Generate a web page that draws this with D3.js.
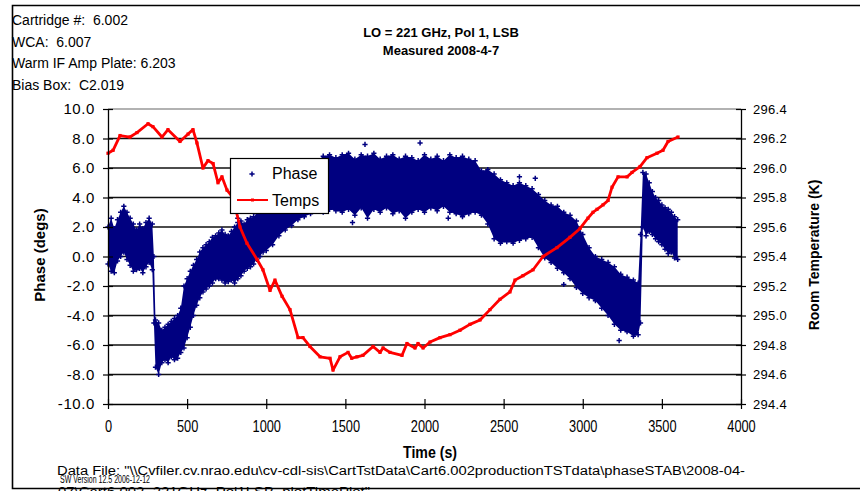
<!DOCTYPE html>
<html>
<head>
<meta charset="utf-8">
<script src="https://cdn.jsdelivr.net/npm/d3@7"></script>
<style>
  body { margin: 0; background: #fff; }
  svg { display: block; font-family: "Liberation Sans", Arial, sans-serif; }
  text { white-space: pre; }
</style>
</head>
<body>
<div id="chart"></div>
<script>
// axis ticks
const timeTicks = [0, 500, 1000, 1500, 2000, 2500, 3000, 3500, 4000];
const phaseTicks = [-10, -8, -6, -4, -2, 0, 2, 4, 6, 8, 10];
const tempTicks = [294.4, 294.6, 294.8, 295.0, 295.2, 295.4, 295.6, 295.8, 296.0, 296.2, 296.4];

// phase scatter, read as lower / upper edge of the point cloud
const phaseTime = [0, 20, 40, 60, 80, 100, 120, 140, 160, 180, 200, 220, 240, 260, 280, 290,
  300, 320, 340, 360, 380, 400, 420, 440, 460, 480, 500, 520, 540, 560, 580, 600, 620, 640, 660, 680,
  700, 720, 740, 760, 780, 800, 820, 840, 860, 880, 900, 920, 940, 960, 980, 1000, 1040, 1080, 1120,
  1160, 1200, 1240, 1280, 1320, 1360, 1400, 1440, 1480, 1520, 1560, 1600, 1640, 1680, 1720, 1760,
  1800, 1840, 1880, 1920, 1960, 2000, 2040, 2080, 2120, 2160, 2200, 2240, 2280, 2320, 2360, 2400,
  2440, 2480, 2520, 2560, 2600, 2640, 2680, 2720, 2760, 2800, 2840, 2880, 2920, 2960, 3000, 3040,
  3080, 3120, 3160, 3200, 3240, 3280, 3320, 3350, 3365, 3380, 3400, 3420, 3440, 3460, 3480, 3500,
  3520, 3540, 3560, 3580, 3600];
const phaseLow = [-0.5, -1.0, -1.1, -0.3, 0.0, 0.3, -0.2, -0.6, -1.0, -0.9, -0.8, -1.1, -0.7, -0.4, -0.9, -4.5,
  -7.5, -8.0, -7.2, -7.0, -7.2, -6.8, -7.0, -6.9, -6.5, -6.2, -5.5, -4.8, -4.0, -3.3, -2.8, -2.4, -2.2, -2.0, -1.8, -1.5,
  -1.5, -1.6, -1.8, -1.7, -1.6, -1.8, -1.5, -1.3, -1.0, -0.8, -0.7, -0.5, -0.2, 0.0, 0.3, 0.4, 0.8, 1.4, 1.8,
  2.1, 2.5, 2.7, 2.9, 3.1, 3.0, 3.2, 3.1, 3.0, 3.2, 2.8, 3.3, 2.6, 3.2, 3.0, 3.3,
  2.9, 3.1, 2.6, 3.0, 3.2, 3.0, 3.3, 3.1, 3.4, 3.0, 2.9, 2.7, 2.9, 3.0, 2.8, 2.2,
  1.2, 0.9, 1.0, 0.9, 1.1, 1.2, 1.3, 0.6, -0.1, -0.4, -0.8, -1.1, -1.5, -2.1, -2.5, -2.8,
  -3.0, -3.5, -4.0, -4.6, -5.0, -5.1, -5.4, -5.3, -4.5, 2.0, 1.4, 1.7, 1.5, 1.2, 1.0, 0.8,
  0.5, 0.2, 0.3, -0.1, -0.2];
const phaseHigh = [2.0, 2.6, 1.9, 2.5, 3.0, 3.4, 3.0, 2.6, 2.2, 1.8, 2.2, 1.9, 2.3, 2.6, 2.2, 0.0,
  -4.3, -4.5, -5.0, -4.8, -4.6, -4.4, -4.2, -4.0, -3.5, -2.0, -1.5, -1.0, -0.6, -0.2, 0.3, 0.6, 0.8, 1.0, 1.3, 1.4,
  1.6, 1.8, 1.5, 1.4, 1.7, 2.0, 2.3, 2.4, 2.2, 2.5, 2.6, 2.7, 2.9, 3.1, 3.0, 3.2, 3.6, 4.0, 4.5,
  5.0, 5.3, 5.8, 6.2, 6.5, 6.8, 6.9, 6.7, 6.9, 7.0, 6.6, 6.9, 6.8, 7.0, 6.6, 6.8,
  6.9, 6.6, 6.8, 6.7, 6.5, 6.9, 6.6, 6.8, 6.5, 6.9, 6.7, 6.8, 6.6, 6.5, 5.8, 5.9,
  5.6, 5.2, 5.0, 4.8, 5.0, 4.8, 4.6, 4.2, 3.8, 3.5, 3.4, 3.0, 2.8, 2.4, 1.5, 0.6,
  0.0, -0.2, -0.4, -0.7, -1.2, -1.4, -1.6, -1.8, 1.5, 5.7, 5.6, 5.0, 4.4, 4.0, 3.8, 3.5,
  3.3, 3.2, 3.0, 2.7, 2.5];
// stray points outside the cloud
const strayTime = [1624, 1972, 1180, 820, 2600, 2700, 1545, 2150, 3230, 2880];
const strayPhase = [7.6, 7.7, 6.2, 2.6, 5.4, 5.3, 2.3, 2.6, -5.7, -1.9];

// room temperature (K)
const tempTime = [0, 32, 76, 139, 183, 253, 284, 341, 379, 455, 506, 537, 562, 600, 632, 664, 695, 720,
  752, 790, 834, 878, 942, 979, 1024, 1055, 1100, 1150, 1201, 1232, 1276, 1340, 1403, 1422, 1466, 1517,
  1540, 1573, 1611, 1675, 1719, 1738, 1782, 1858, 1889, 1940, 1959, 1991, 2035, 2098, 2161, 2224, 2287,
  2351, 2414, 2477, 2540, 2572, 2622, 2686, 2749, 2837, 2919, 2983, 3033, 3065, 3090, 3128, 3160, 3185,
  3223, 3280, 3311, 3362, 3406, 3469, 3507, 3539, 3602];
const tempK = [296.10, 296.12, 296.22, 296.21, 296.24, 296.30, 296.28, 296.21, 296.26, 296.18, 296.23, 296.26, 296.17, 296.00, 296.05, 296.03, 295.90, 295.94,
  295.85, 295.80, 295.60, 295.49, 295.38, 295.31, 295.17, 295.24, 295.13, 295.04, 294.85, 294.85, 294.79, 294.72, 294.71, 294.63, 294.72, 294.75,
  294.71, 294.72, 294.73, 294.79, 294.75, 294.78, 294.75, 294.73, 294.81, 294.78, 294.81, 294.78, 294.82, 294.85, 294.87, 294.90, 294.94,
  294.97, 295.04, 295.11, 295.16, 295.24, 295.27, 295.31, 295.40, 295.46, 295.53, 295.59, 295.66, 295.70, 295.72, 295.75, 295.78, 295.87,
  295.94, 295.94, 295.97, 296.01, 296.07, 296.10, 296.12, 296.18, 296.21];

const infoLines = ["Cartridge #:  6.002", "WCA:  6.007", "Warm IF Amp Plate: 6.203", "Bias Box:  C2.019"];

const W = 860, H = 491;
const plot = {left: 108, right: 741, top: 109, bottom: 404};
const navy = "#000080", red = "#ff0000";

const svg = d3.select("#chart").append("svg")
  .attr("width", W).attr("height", H);

// outer frame
svg.append("path")
  .attr("d", `M${W + 2},5.5H12.5V488.5H${W + 2}`)
  .attr("fill", "none").attr("stroke", "#000").attr("stroke-width", 1.6);

// scales
const x = d3.scaleLinear().domain([0, 4000]).range([plot.left, plot.right]);
const yP = d3.scaleLinear().domain([-10, 10]).range([plot.bottom, plot.top]);
const yT = d3.scaleLinear().domain([294.4, 296.4]).range([plot.bottom, plot.top]);

// gridlines
svg.append("g").selectAll("line")
  .data(phaseTicks.filter(d => d > -10))
  .join("line")
  .attr("x1", plot.left).attr("x2", plot.right)
  .attr("y1", d => yP(d)).attr("y2", d => yP(d))
  .attr("stroke", d => d === 10 ? "#999" : "#111")
  .attr("stroke-width", 1.3);

// phase cloud
const phaseData = phaseTime.map((t, i) => ({t: t, lo: phaseLow[i], hi: phaseHigh[i]}));
svg.append("path")
  .datum(phaseData)
  .attr("fill", navy)
  .attr("d", d3.area().x(d => x(d.t)).y0(d => yP(d.lo)).y1(d => yP(d.hi)));

const plus = "M-2.6,0H2.6M0,-2.6V2.6";
const edgePts = [];
phaseData.forEach(d => { edgePts.push([d.t, d.lo]); edgePts.push([d.t, d.hi]); });
strayTime.forEach((t, i) => edgePts.push([t, strayPhase[i]]));
svg.append("g").selectAll("path")
  .data(edgePts)
  .join("path")
  .attr("transform", d => `translate(${x(d[0])},${yP(d[1])})`)
  .attr("d", plus)
  .attr("stroke", navy).attr("stroke-width", 1.5);

// temperature line
const tempData = tempTime.map((t, i) => ({t: t, k: tempK[i]}));
svg.append("path")
  .datum(tempData)
  .attr("fill", "none")
  .attr("stroke", red)
  .attr("stroke-width", 2.8)
  .attr("stroke-linejoin", "round")
  .attr("d", d3.line().x(d => x(d.t)).y(d => yT(d.k)));
svg.append("g").selectAll("rect")
  .data(tempData)
  .join("rect")
  .attr("x", d => x(d.t) - 1.6).attr("y", d => yT(d.k) - 1.6)
  .attr("width", 3.2).attr("height", 3.2)
  .attr("fill", red);

// axes
const fmt = d => d.toFixed(1);
const crossTicks = g => {
  g.select(".domain").attr("stroke-width", 1.3);
  g.selectAll(".tick line").attr("stroke-width", 1.2);
};

const xAxisG = svg.append("g")
  .attr("transform", `translate(0,${plot.bottom})`)
  .call(d3.axisBottom(x).tickValues(timeTicks).tickSize(5).tickSizeOuter(0).tickPadding(12).tickFormat(d3.format("d")));
xAxisG.call(crossTicks);
xAxisG.selectAll(".tick line").attr("y1", -5);
xAxisG.selectAll(".tick text")
  .attr("font-size", 16).attr("fill", "#000")
  .attr("transform", "scale(0.8,1)");

const yAxisG = svg.append("g")
  .attr("transform", `translate(${plot.left},0)`)
  .call(d3.axisLeft(yP).tickValues(phaseTicks).tickSize(5).tickSizeOuter(0).tickPadding(8).tickFormat(fmt));
yAxisG.call(crossTicks);
yAxisG.selectAll(".tick line").attr("x1", 5);
yAxisG.selectAll(".tick text").attr("font-size", 15).attr("fill", "#000").attr("letter-spacing", 0.6);

const y2AxisG = svg.append("g")
  .attr("transform", `translate(${plot.right},0)`)
  .call(d3.axisRight(yT).tickValues(tempTicks).tickSize(5).tickSizeOuter(0).tickPadding(7).tickFormat(fmt));
y2AxisG.call(crossTicks);
y2AxisG.selectAll(".tick line").attr("x1", -5);
y2AxisG.selectAll(".tick text").attr("font-size", 13).attr("fill", "#000").attr("letter-spacing", 0.3);

// axis titles
svg.append("text")
  .attr("transform", "translate(45,255) rotate(-90)")
  .attr("text-anchor", "middle")
  .attr("font-size", 15).attr("font-weight", "bold")
  .text("Phase (degs)");
svg.append("text")
  .attr("transform", "translate(819,255) rotate(-90)")
  .attr("text-anchor", "middle")
  .attr("font-size", 14).attr("font-weight", "bold")
  .text("Room Temperature (K)");
svg.append("text")
  .attr("x", 430).attr("y", 458)
  .attr("text-anchor", "middle")
  .attr("font-size", 16).attr("font-weight", "bold")
  .attr("textLength", 54).attr("lengthAdjust", "spacingAndGlyphs")
  .text("Time (s)");

// title
svg.append("text")
  .attr("x", 441).attr("y", 37)
  .attr("text-anchor", "middle")
  .attr("font-size", 13).attr("font-weight", "bold")
  .text("LO = 221 GHz, Pol 1, LSB");
svg.append("text")
  .attr("x", 441).attr("y", 55)
  .attr("text-anchor", "middle")
  .attr("font-size", 13).attr("font-weight", "bold")
  .text("Measured 2008-4-7");

// info block
svg.append("g").selectAll("text")
  .data(infoLines)
  .join("text")
  .attr("x", 12).attr("y", (d, i) => 25 + i * 21.5)
  .attr("font-size", 14)
  .text(d => d);

// footer
svg.append("text")
  .attr("x", 57).attr("y", 475)
  .attr("font-size", 12)
  .attr("textLength", 688).attr("lengthAdjust", "spacingAndGlyphs")
  .text('Data File: "\\\\Cvfiler.cv.nrao.edu\\cv-cdl-sis\\CartTstData\\Cart6.002productionTSTdata\\phaseSTAB\\2008-04-');
svg.append("text")
  .attr("x", 60).attr("y", 483)
  .attr("font-size", 10)
  .attr("textLength", 90).attr("lengthAdjust", "spacingAndGlyphs")
  .text("SW Version 12.5 2006-12-12");
svg.append("text")
  .attr("x", 58).attr("y", 496)
  .attr("font-size", 12)
  .attr("textLength", 312).attr("lengthAdjust", "spacingAndGlyphs")
  .text('07\\Cart6.002_221GHz_Pol1LSB_plotTimePlot"');

// legend
const legend = svg.append("g");
legend.append("rect")
  .attr("x", 230.5).attr("y", 158.5).attr("width", 98).attr("height", 55)
  .attr("fill", "#fff").attr("stroke", "#000").attr("stroke-width", 1.2);
legend.append("path")
  .attr("transform", "translate(252,174)")
  .attr("d", plus)
  .attr("stroke", navy).attr("stroke-width", 1.5);
legend.append("line")
  .attr("x1", 237).attr("x2", 268).attr("y1", 200).attr("y2", 200)
  .attr("stroke", red).attr("stroke-width", 2);
legend.append("rect")
  .attr("x", 251).attr("y", 198.5).attr("width", 3).attr("height", 3)
  .attr("fill", red);
legend.selectAll(".lbl")
  .data(["Phase", "Temps"])
  .join("text")
  .attr("x", 272).attr("y", (d, i) => 179 + i * 27)
  .attr("font-size", 16)
  .text(d => d);
</script>
</body>
</html>
